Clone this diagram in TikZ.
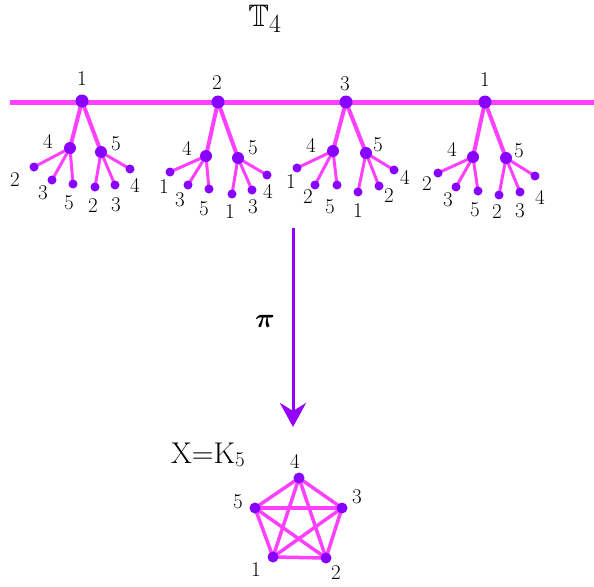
\documentclass[tikz,border=0pt]{standalone}
\usepackage{amsmath,amssymb,bm,graphicx}
\usepackage{fontspec}
\usetikzlibrary{arrows.meta}
\definecolor{edgec}{RGB}{255,64,255}
\definecolor{dotc}{RGB}{136,0,255}
\definecolor{arrc}{RGB}{150,0,255}
\pgfdeclarelayer{bg}
\pgfsetlayers{bg,main}
\tikzset{
  rootdot/.style={circle,fill=dotc,inner sep=0,minimum size=13pt},
  middot/.style={circle,fill=dotc,inner sep=0,minimum size=12pt},
  leafdot/.style={circle,fill=dotc,inner sep=0,minimum size=9pt},
  kdot/.style={circle,fill=dotc,inner sep=0,minimum size=11pt},
  lab/.style={font=\fontsize{21}{24}\selectfont,inner sep=0},
  mainline/.style={draw=edgec,line width=5pt},
  trunk/.style={draw=edgec,line width=4pt},
  twig/.style={draw=edgec,line width=3pt},
  kedge/.style={draw=edgec,line width=3.5pt},
  proj/.style={draw=arrc,line width=3pt,-{Stealth[length=24pt,width=26pt,inset=8pt]}}
}
\begin{document}
\begin{tikzpicture}[x=1pt,y=-1pt]
\useasboundingbox (0,0) rectangle (594,586);
% title
\node[font=\fontsize{24.88}{30}\selectfont,inner sep=0] (title) at (265,19) {\scalebox{1.25}{$\mathbb{T}_4$}};
% main line ends
\coordinate (L) at (10,102);
\coordinate (R) at (594,102);
% tree 1
\node[rootdot] (r1) at (82,101) {};
\node[middot] (a1) at (70,148) {};
\node[middot] (b1) at (101,152) {};
\node[leafdot] (a1x) at (34,167) {};
\node[leafdot] (a1y) at (52,180) {};
\node[leafdot] (a1z) at (73,184) {};
\node[leafdot] (b1x) at (95,187) {};
\node[leafdot] (b1y) at (115,185) {};
\node[leafdot] (b1z) at (130,169) {};
\node[lab] (lr1) at (82,79) {1};
\node[lab] (la1) at (48,141) {4};
\node[lab] (lb1) at (116,144) {5};
\node[lab] (la1x) at (15,180) {2};
\node[lab] (la1y) at (43,193) {3};
\node[lab] (la1z) at (69,203) {5};
\node[lab] (lb1x) at (93,206) {2};
\node[lab] (lb1y) at (116,205) {3};
\node[lab] (lb1z) at (135,185) {4};
% tree 2
\node[rootdot] (r2) at (218,102) {};
\node[middot] (a2) at (206,156) {};
\node[middot] (b2) at (238,158) {};
\node[leafdot] (a2x) at (170,172) {};
\node[leafdot] (a2y) at (188,185) {};
\node[leafdot] (a2z) at (209,189) {};
\node[leafdot] (b2x) at (232,194) {};
\node[leafdot] (b2y) at (252,190) {};
\node[leafdot] (b2z) at (267,175) {};
\node[lab] (lr2) at (217,83) {2};
\node[lab] (la2) at (187,148) {4};
\node[lab] (lb2) at (253,148) {5};
\node[lab] (la2x) at (164,187) {1};
\node[lab] (la2y) at (180,200) {3};
\node[lab] (la2z) at (204,209) {5};
\node[lab] (lb2x) at (230,212) {1};
\node[lab] (lb2y) at (253,207) {3};
\node[lab] (lb2z) at (268,191) {4};
% tree 3
\node[rootdot] (r3) at (346,102) {};
\node[middot] (a3) at (333,151) {};
\node[middot] (b3) at (366,153) {};
\node[leafdot] (a3x) at (297,168) {};
\node[leafdot] (a3y) at (315,185) {};
\node[leafdot] (a3z) at (337,185) {};
\node[leafdot] (b3x) at (358,192) {};
\node[leafdot] (b3y) at (379,186) {};
\node[leafdot] (b3z) at (394,170) {};
\node[lab] (lr3) at (345,84) {3};
\node[lab] (la3) at (311,145) {4};
\node[lab] (lb3) at (378,145) {5};
\node[lab] (la3x) at (291,182) {1};
\node[lab] (la3y) at (308,197) {2};
\node[lab] (la3z) at (330,207) {5};
\node[lab] (lb3x) at (358,211) {1};
\node[lab] (lb3y) at (389,196) {2};
\node[lab] (lb3z) at (405,177) {4};
% tree 4
\node[rootdot] (r4) at (485,102) {};
\node[middot] (a4) at (473,157) {};
\node[middot] (b4) at (506,158) {};
\node[leafdot] (a4x) at (438,173) {};
\node[leafdot] (a4y) at (456,187) {};
\node[leafdot] (a4z) at (478,191) {};
\node[leafdot] (b4x) at (499,195) {};
\node[leafdot] (b4y) at (520,192) {};
\node[leafdot] (b4z) at (535,176) {};
\node[lab] (lr4) at (485,80) {1};
\node[lab] (la4) at (452,149) {4};
\node[lab] (lb4) at (519,151) {5};
\node[lab] (la4x) at (427,184) {2};
\node[lab] (la4y) at (448,200) {3};
\node[lab] (la4z) at (475,210) {5};
\node[lab] (lb4x) at (497,212) {2};
\node[lab] (lb4y) at (520,211) {3};
\node[lab] (lb4z) at (540,197) {4};
% projection
\coordinate (ptop) at (293,228);
\coordinate (pbot) at (293,427);
\draw[proj] (ptop) -- (pbot);
\node[font=\fontsize{24.88}{30}\selectfont,inner sep=0] (pi) at (265,321) {\scalebox{1.1}{$\boldsymbol{\pi}$}};
% K5
\node[font=\fontsize{30}{34}\selectfont,inner sep=0] (xk) at (208,455) {X=K\raisebox{-0.25ex}{\fontsize{21}{24}\selectfont 5}};
\node[kdot] (k4) at (299,478) {};
\node[kdot] (k3) at (342,508) {};
\node[kdot] (k2) at (326,558) {};
\node[kdot] (k1) at (273,557) {};
\node[kdot] (k5) at (255,508) {};
\node[lab] (lk4) at (295,461) {4};
\node[lab] (lk3) at (357,497) {3};
\node[lab] (lk2) at (336,573) {2};
\node[lab] (lk1) at (256,570) {1};
\node[lab] (lk5) at (238,502) {5};
\begin{pgfonlayer}{bg}
\draw[mainline] (L) -- (R);
\foreach \t in {1,2,3,4}{
  \draw[trunk] (r\t.center) -- (a\t.center);
  \draw[trunk] (r\t.center) -- (b\t.center);
  \foreach \l in {x,y,z}{
    \draw[twig] (a\t.center) -- (a\t\l.center);
    \draw[twig] (b\t.center) -- (b\t\l.center);
  }
}
\foreach \i/\j in {1/2,1/3,1/4,1/5,2/3,2/4,2/5,3/4,3/5,4/5}
  \draw[kedge] (k\i.center) -- (k\j.center);
\end{pgfonlayer}
\end{tikzpicture}
\end{document}
